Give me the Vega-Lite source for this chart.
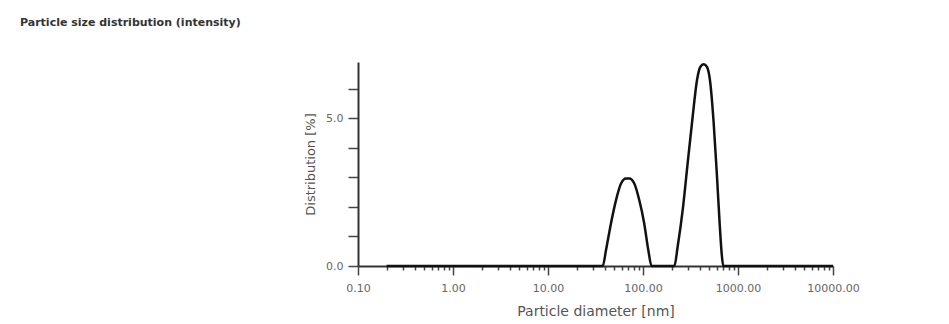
{
  "$schema": "https://vega.github.io/schema/vega-lite/v6.json",
  "width": 475,
  "height": 204,
  "autosize": "none",
  "padding": {"left": 358, "top": 62, "right": 116, "bottom": 58},
  "background": "white",
  "config": {"view": {"stroke": null}, "font": "DejaVu Sans"},
  "title": {
    "text": "Particle size distribution (intensity)",
    "anchor": "start",
    "frame": "group",
    "font": "DejaVu Sans",
    "fontSize": 11,
    "fontWeight": "bold",
    "color": "#333",
    "dx": -338,
    "offset": 0,
    "baseline": "alphabetic",
    "dy": -22
  },
  "data": {
    "values": [
      {"d": 0.2, "v": 0},
      {"d": 37.7, "v": 0},
      {"d": 40.8, "v": 0.54},
      {"d": 46, "v": 1.44},
      {"d": 52, "v": 2.23},
      {"d": 58.7, "v": 2.79},
      {"d": 66.2, "v": 2.96},
      {"d": 71.8, "v": 2.96},
      {"d": 81, "v": 2.79},
      {"d": 91.3, "v": 2.23},
      {"d": 103, "v": 1.44},
      {"d": 113.7, "v": 0.54},
      {"d": 123, "v": 0},
      {"d": 214, "v": 0},
      {"d": 231.5, "v": 0.65},
      {"d": 261.6, "v": 1.89},
      {"d": 295, "v": 3.47},
      {"d": 333, "v": 5.04},
      {"d": 370, "v": 6.28},
      {"d": 401, "v": 6.73},
      {"d": 435, "v": 6.82},
      {"d": 472, "v": 6.73},
      {"d": 512, "v": 6.17},
      {"d": 555, "v": 4.82},
      {"d": 601, "v": 3.02},
      {"d": 641, "v": 1.44},
      {"d": 673, "v": 0.43},
      {"d": 700, "v": 0},
      {"d": 10000, "v": 0}
    ]
  },
  "mark": {"type": "line", "color": "#111", "strokeWidth": 2.5, "interpolate": "monotone", "clip": false},
  "encoding": {
    "x": {
      "field": "d",
      "type": "quantitative",
      "scale": {"type": "log", "domain": [0.1, 10000]},
      "axis": {
        "title": "Particle diameter [nm]",
        "titleFont": "DejaVu Sans",
        "titleFontSize": 14,
        "titleFontWeight": "normal",
        "titleColor": "#555",
        "titlePadding": 11,
        "values": [0.1, 0.2, 0.3, 0.4, 0.5, 0.6, 0.7, 0.8, 0.9, 1, 2, 3, 4, 5, 6, 7, 8, 9, 10, 20, 30, 40, 50, 60, 70, 80, 90, 100, 200, 300, 400, 500, 600, 700, 800, 900, 1000, 2000, 3000, 4000, 5000, 6000, 7000, 8000, 9000, 10000],
        "labelExpr": "indexof([0.1,1,10,100,1000,10000], datum.value) >= 0 ? format(datum.value, '.2f') : ''",
        "labelOverlap": false,
        "labelFlush": false,
        "labelFont": "DejaVu Sans",
        "labelFontSize": 11,
        "labelColor": "#666",
        "labelPadding": 7,
        "tickSize": {"condition": {"test": "indexof([0.1,1,10,100,1000,10000], datum.value) >= 0", "value": 9}, "value": 4},
        "tickColor": "#444",
        "tickWidth": 1.5,
        "domainColor": "#333",
        "domainWidth": 2,
        "grid": false
      }
    },
    "y": {
      "field": "v",
      "type": "quantitative",
      "scale": {"domain": [0, 6.9], "nice": false},
      "axis": {
        "title": "Distribution [%]",
        "titleFont": "DejaVu Sans",
        "titleFontSize": 13,
        "titleFontWeight": "normal",
        "titleColor": "#555",
        "titlePadding": 8,
        "values": [0, 1, 2, 3, 4, 5, 6],
        "labelExpr": "datum.value == 0 || datum.value == 5 ? format(datum.value, '.1f') : ''",
        "labelFont": "DejaVu Sans",
        "labelFontSize": 11,
        "labelColor": "#666",
        "labelPadding": 5,
        "tickSize": 10,
        "tickColor": "#444",
        "tickWidth": 1.5,
        "domainColor": "#333",
        "domainWidth": 2,
        "grid": false
      }
    }
  }
}
